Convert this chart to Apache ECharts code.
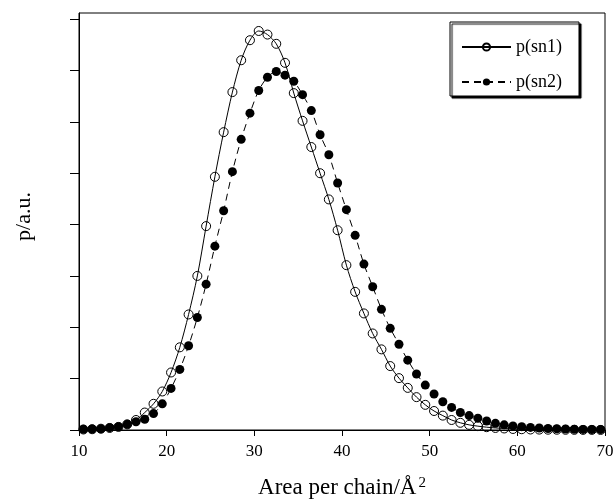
<!DOCTYPE html>
<html>
<head>
<meta charset="utf-8">
<script src="https://cdn.jsdelivr.net/npm/echarts@6/dist/echarts.min.js"></script>
<style>
  html, body { margin: 0; padding: 0; background: #fff; }
  #chart { width: 616px; height: 502px; }
</style>
</head>
<body>
<div id="chart"></div>
<script>
// Area per chain (Å²) sampled at half-integer positions
const areas = [
  10.5, 11.5, 12.5, 13.5, 14.5, 15.5, 16.5, 17.5, 18.5, 19.5,
  20.5, 21.5, 22.5, 23.5, 24.5, 25.5, 26.5, 27.5, 28.5, 29.5,
  30.5, 31.5, 32.5, 33.5, 34.5, 35.5, 36.5, 37.5, 38.5, 39.5,
  40.5, 41.5, 42.5, 43.5, 44.5, 45.5, 46.5, 47.5, 48.5, 49.5,
  50.5, 51.5, 52.5, 53.5, 54.5, 55.5, 56.5, 57.5, 58.5, 59.5,
  60.5, 61.5, 62.5, 63.5, 64.5, 65.5, 66.5, 67.5, 68.5, 69.5
];

// Probability distributions (arbitrary units)
const pSn1 = [
  0.01, 0.015, 0.025, 0.04, 0.06, 0.11, 0.195, 0.34, 0.51, 0.75,
  1.12, 1.61, 2.25, 3.00, 3.97, 4.93, 5.80, 6.58, 7.20, 7.59,
  7.77, 7.70, 7.52, 7.15, 6.56, 6.02, 5.51, 5.00, 4.49, 3.89,
  3.21, 2.69, 2.27, 1.88, 1.57, 1.245, 1.01, 0.82, 0.64, 0.49,
  0.37, 0.28, 0.195, 0.14, 0.10, 0.075, 0.055, 0.04, 0.03, 0.02,
  0.015, 0.01, 0.008, 0.006, 0.005, 0.004, 0.003, 0.002, 0.002, 0.001
];
const pSn2 = [
  0.015, 0.02, 0.025, 0.045, 0.065, 0.11, 0.16, 0.21, 0.32, 0.51,
  0.81, 1.18, 1.64, 2.19, 2.84, 3.58, 4.27, 5.03, 5.66, 6.17,
  6.61, 6.87, 6.98, 6.91, 6.79, 6.53, 6.22, 5.75, 5.36, 4.81,
  4.29, 3.79, 3.23, 2.79, 2.35, 1.98, 1.67, 1.36, 1.09, 0.875,
  0.70, 0.55, 0.44, 0.34, 0.28, 0.23, 0.175, 0.13, 0.10, 0.08,
  0.065, 0.05, 0.04, 0.03, 0.025, 0.02, 0.015, 0.012, 0.01, 0.01
];

const seriesNames = ['p(sn1)', 'p(sn2)'];
const yTicks = [0, 1, 2, 3, 4, 5, 6, 7, 8];

const serif = "'Liberation Serif', 'Times New Roman', serif";
const pairs = (ys) => areas.map((x, i) => [x, ys[i]]);

const chart = echarts.init(document.getElementById('chart'), null, { renderer: 'canvas' });

chart.setOption({
  backgroundColor: '#fff',
  animation: false,
  grid: {
    left: 79, right: 11, top: 13, bottom: 72,
    containLabel: false, outerBoundsMode: 'none',
    show: true, borderColor: '#000', borderWidth: 1, backgroundColor: 'transparent'
  },
  legend: {
    left: 450, top: 22,
    orient: 'vertical',
    data: seriesNames,
    itemWidth: 49, itemHeight: 9, itemGap: 17,
    padding: [16, 17, 5, 11],
    backgroundColor: '#fff',
    borderColor: '#000', borderWidth: 1,
    shadowColor: '#000', shadowBlur: 1, shadowOffsetX: 2, shadowOffsetY: 2,
    textStyle: { fontFamily: serif, fontSize: 18, color: '#000', lineHeight: 18 }
  },
  xAxis: {
    type: 'value', min: 10, max: 70, interval: 10,
    name: '{a|Area per chain/Å}{s|2}',
    nameLocation: 'middle', nameGap: 46,
    nameTextStyle: {
      rich: {
        a: { fontFamily: serif, fontSize: 23, color: '#000' },
        s: { fontFamily: serif, fontSize: 15, color: '#000', verticalAlign: 'top', padding: [0, 0, 0, 2] }
      }
    },
    axisLine: { lineStyle: { color: '#000', width: 1 } },
    axisTick: { length: 6, lineStyle: { color: '#000' } },
    axisLabel: { fontFamily: serif, fontSize: 17, color: '#000', margin: 13 },
    splitLine: { show: false }
  },
  yAxis: {
    type: 'value', min: 0, max: 8.12,
    name: 'p/a.u.',
    nameLocation: 'middle', nameGap: 44, nameRotate: 90,
    nameTextStyle: { fontFamily: serif, fontSize: 22, color: '#000', padding: [0, 0, 0, 10] },
    axisLine: { show: true, lineStyle: { color: '#000', width: 1 } },
    axisTick: { show: true, length: 9, customValues: yTicks, lineStyle: { color: '#000' } },
    axisLabel: { show: false },
    splitLine: { show: false }
  },
  series: [
    {
      name: seriesNames[1], type: 'line', data: pairs(pSn2), z: 2,
      smooth: 0.3,
      symbol: 'circle', symbolSize: 9,
      itemStyle: { color: '#000' },
      lineStyle: { color: '#000', width: 1, type: [7, 5] }
    },
    {
      name: seriesNames[0], type: 'line', data: pairs(pSn1), z: 3,
      smooth: 0.3,
      symbol: 'circle', symbolSize: 9,
      itemStyle: { color: 'rgba(0,0,0,0)', borderColor: '#000', borderWidth: 1 },
      lineStyle: { color: '#000', width: 1, type: 'solid' }
    }
  ]
});
</script>
</body>
</html>
